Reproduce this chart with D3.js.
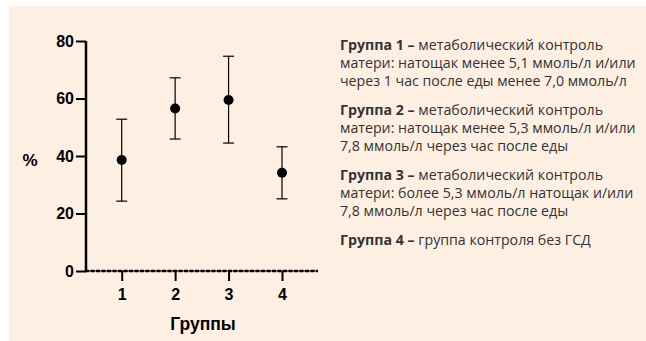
<!DOCTYPE html>
<html>
<head>
<meta charset="utf-8">
<script src="https://cdn.jsdelivr.net/npm/d3@7"></script>
<style>
html,body{margin:0;padding:0;background:#fdf0e3;overflow:hidden;}
svg{display:block;}
</style>
</head>
<body>
<svg id="chart" width="646" height="341"></svg>
<script>
const groups = ["1", "2", "3", "4"];
const means = [38.6, 56.5, 59.5, 34.2];
const upper = [52.8, 67.2, 74.7, 43.2];
const lower = [24.3, 45.9, 44.5, 25.1];
const yTicks = [0, 20, 40, 60, 80];
const yLabel = "%";
const xLabel = "Группы";
const legendItems = [
  {head: "Группа 1 –", lines: [" метаболический контроль", "матери: натощак менее 5,1 ммоль/л и/или", "через 1 час после еды менее 7,0 ммоль/л"]},
  {head: "Группа 2 –", lines: [" метаболический контроль", "матери: натощак менее 5,3 ммоль/л и/или", "7,8 ммоль/л через час после еды"]},
  {head: "Группа 3 –", lines: [" метаболический контроль", "матери: более 5,3 ммоль/л натощак и/или", "7,8 ммоль/л через час после еды"]},
  {head: "Группа 4 –", lines: [" группа контроля без ГСД"]}
];

const svg = d3.select("#chart");
svg.append("rect").attr("x", 0).attr("y", 0).attr("width", 646).attr("height", 341).attr("fill", "#ffffff");
svg.append("rect").attr("x", 9).attr("y", 6).attr("width", 637).attr("height", 335).attr("fill", "#fdf0e3");

const x = d3.scalePoint().domain(groups).range([121.7, 282]);
const y = d3.scaleLinear().domain([0, 80]).range([271, 41]);
const axisFont = "'Liberation Sans', Arial, sans-serif";

// Y axis
const yAxis = svg.append("g").attr("transform", "translate(86,0)")
  .call(d3.axisLeft(y).tickValues(yTicks).tickSize(10).tickPadding(2));
yAxis.select(".domain").attr("stroke", "#000").attr("stroke-width", 2.5).attr("d", `M0,${y(80)}V${y(0)}`);
yAxis.selectAll(".tick line").attr("stroke", "#000").attr("stroke-width", 2);
yAxis.selectAll(".tick text").attr("font-family", axisFont).attr("font-weight", "bold").attr("font-size", 16).attr("fill", "#000");

// X axis
const xAxis = svg.append("g").attr("transform", `translate(0,${y(0)})`)
  .call(d3.axisBottom(x).tickSize(10).tickPadding(8));
xAxis.select(".domain").remove();
xAxis.selectAll(".tick line").attr("stroke", "#000").attr("stroke-width", 2);
xAxis.selectAll(".tick text").attr("font-family", axisFont).attr("font-weight", "bold").attr("font-size", 16).attr("fill", "#000");
xAxis.append("line").attr("x1", 85).attr("x2", 318).attr("y1", 0).attr("y2", 0)
  .attr("stroke", "#000").attr("stroke-width", 1.2);
xAxis.append("line").attr("x1", 85).attr("x2", 318).attr("y1", 0).attr("y2", 0)
  .attr("stroke", "#000").attr("stroke-width", 2.6).attr("stroke-dasharray", "4,1.5");

// labels
svg.append("text").attr("x", 30).attr("y", 166).attr("text-anchor", "middle")
  .attr("font-family", axisFont).attr("font-weight", "bold").attr("font-size", 17).text(yLabel);
svg.append("text").attr("x", 203).attr("y", 330).attr("text-anchor", "middle")
  .attr("font-family", axisFont).attr("font-weight", "bold").attr("font-size", 17.5).text(xLabel);

// error bars
const data = groups.map((g, i) => ({g, m: means[i], hi: upper[i], lo: lower[i]}));
const eb = svg.append("g").selectAll("g").data(data).join("g");
eb.append("line").attr("x1", d => x(d.g)).attr("x2", d => x(d.g))
  .attr("y1", d => y(d.hi)).attr("y2", d => y(d.lo)).attr("stroke", "#000").attr("stroke-width", 1.2);
eb.append("line").attr("x1", d => x(d.g) - 5.5).attr("x2", d => x(d.g) + 5.5)
  .attr("y1", d => y(d.hi)).attr("y2", d => y(d.hi)).attr("stroke", "#000").attr("stroke-width", 1.2);
eb.append("line").attr("x1", d => x(d.g) - 5.5).attr("x2", d => x(d.g) + 5.5)
  .attr("y1", d => y(d.lo)).attr("y2", d => y(d.lo)).attr("stroke", "#000").attr("stroke-width", 1.2);
eb.append("circle").attr("cx", d => x(d.g)).attr("cy", d => y(d.m)).attr("r", 5).attr("fill", "#000");

// legend
const legFont = "'Open Sans', 'Noto Sans', sans-serif";
const fs = 14.2;
const lineH = 17.8;
const starts = [50, 115, 180, 245];
const leg = svg.append("g");
legendItems.forEach((it, i) => {
  const t = leg.append("text").attr("x", 340).attr("y", starts[i])
    .attr("font-family", legFont).attr("font-size", fs).attr("fill", "#333");
  t.append("tspan").attr("font-weight", "bold").text(it.head);
  t.append("tspan").text(it.lines[0]);
  it.lines.slice(1).forEach((l, j) => {
    leg.append("text").attr("x", 340).attr("y", starts[i] + lineH * (j + 1))
      .attr("font-family", legFont).attr("font-size", fs).attr("fill", "#333").text(l);
  });
});
</script>
</body>
</html>
